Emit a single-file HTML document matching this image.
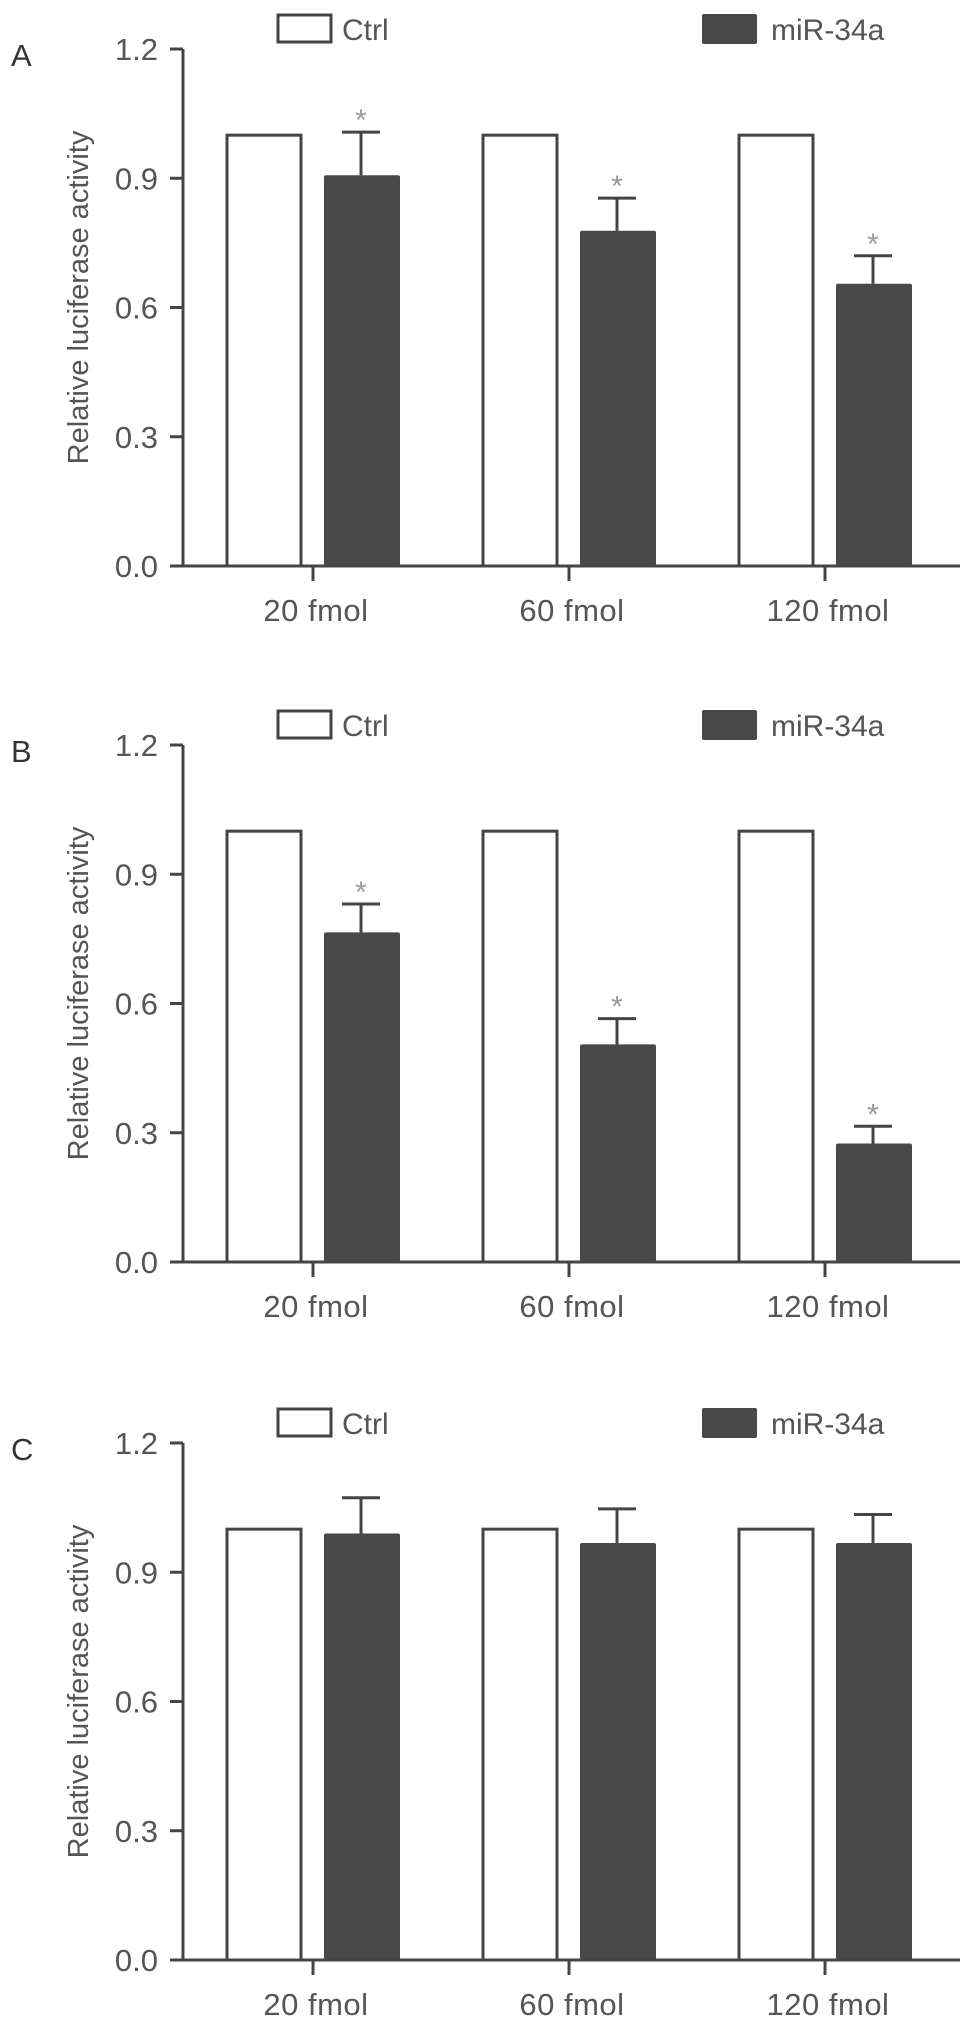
<!DOCTYPE html>
<html><head><meta charset="utf-8"><style>
html,body{margin:0;padding:0;background:#fff;}
svg{display:block;font-family:"Liberation Sans",sans-serif;}
</style></head><body>
<svg id="chart" width="969" height="2024" viewBox="0 0 969 2024" xmlns="http://www.w3.org/2000/svg"></svg>
<script>
const categories = ["20 fmol","60 fmol","120 fmol"];
const panelLabels = ["A","B","C"];
const yTicks = [0.0,0.3,0.6,0.9,1.2];
const ctrlA = [1,1,1];
const mirA = [0.907,0.778,0.655];
const errA = [0.1,0.076,0.065];
const sigA = [true,true,true];
const ctrlB = [1,1,1];
const mirB = [0.765,0.505,0.275];
const errB = [0.066,0.06,0.04];
const sigB = [true,true,true];
const ctrlC = [1,1,1];
const mirC = [0.99,0.968,0.968];
const errC = [0.083,0.079,0.066];
const sigC = [false,false,false];

const svg = document.getElementById('chart');
const NS = 'http://www.w3.org/2000/svg';
function mk(tag, attrs, parent){
  const e = document.createElementNS(NS, tag);
  for (const k in attrs) e.setAttribute(k, attrs[k]);
  (parent||svg).appendChild(e);
  return e;
}
const panels = [
  {off:0, ctrl:ctrlA, mir:mirA, err:errA, sig:sigA},
  {off:696, ctrl:ctrlB, mir:mirB, err:errB, sig:sigB},
  {off:1394, ctrl:ctrlC, mir:mirC, err:errC, sig:sigC}
];
const axX = 183, xEnd = 960, barW = 74;
const INK = '#444', FILL = '#484848', TXT = '#555';
panels.forEach((p, pi) => {
  const g = mk('g', {});
  
  
  const y0 = p.off + 566, yTop = p.off + 49;
  const ys = v => y0 - (v / 1.2) * (y0 - yTop);
  const gx = i => 227 + i * 256;
  const L = mk('text', {x:11, y:p.off+66, 'font-size':31, fill:'#333'}, g);
  
  
  L.textContent = panelLabels[pi];
  const lc = mk('rect', {x:278, y:p.off+15, width:53, height:27, fill:'#fff', stroke:INK, 'stroke-width':3}, g);
  
  
  const lct = mk('text', {x:342, y:p.off+40, 'font-size':30, fill:TXT}, g);
  
  
  lct.textContent = 'Ctrl';
  const lm = mk('rect', {x:702, y:p.off+14, width:55, height:30, rx:2, fill:FILL}, g);
  
  
  const lmt = mk('text', {x:771, y:p.off+40, 'font-size':30, fill:TXT}, g);
  
  
  lmt.textContent = 'miR-34a';
  const yt = mk('text', {x:0, y:0, 'font-size':29, fill:TXT, 'text-anchor':'middle', transform:`translate(88,${(yTop+y0)/2-10}) rotate(-90)`}, g);
  
  
  yt.textContent = 'Relative luciferase activity';
  categories.forEach((c, i) => {
    const cx = gx(i);
    const cb = mk('rect', {x:cx, y:ys(p.ctrl[i]), width:barW, height:y0-ys(p.ctrl[i]), fill:'#fff', stroke:INK, 'stroke-width':3}, g);
    
    
    const mx = cx + 97;
    const ex = mx + barW/2;
    const eTop = ys(p.mir[i] + p.err[i]);
    const el = mk('line', {x1:ex, x2:ex, y1:ys(p.mir[i]), y2:eTop, stroke:INK, 'stroke-width':3}, g);
    
    
    const ec = mk('line', {x1:ex-19, x2:ex+19, y1:eTop, y2:eTop, stroke:INK, 'stroke-width':3}, g);
    
    
    const mb = mk('rect', {x:mx, y:ys(p.mir[i]), width:barW+2, height:y0-ys(p.mir[i]), rx:2, fill:FILL}, g);
    
    
    if (p.sig[i]) {
      const st = mk('text', {x:ex, y:eTop-2, 'font-size':30, fill:'#999', 'text-anchor':'middle'}, g);
      
      
      st.textContent = '*';
    }
    const tx = cx + 86;
    const tk = mk('line', {x1:tx, x2:tx, y1:y0, y2:y0+15, stroke:INK, 'stroke-width':3}, g);
    
    
    const xl = mk('text', {x:tx+3, y:y0+55, 'font-size':31, fill:TXT, 'text-anchor':'middle', 'letter-spacing':'0.5'}, g);
    
    
    xl.textContent = c;
  });
  const ya = mk('line', {x1:axX, x2:axX, y1:yTop, y2:y0, stroke:INK, 'stroke-width':3}, g);
  
  
  const xa = mk('line', {x1:axX-13, x2:xEnd, y1:y0, y2:y0, stroke:INK, 'stroke-width':3}, g);
  
  
  yTicks.forEach(t => {
    const yy = ys(t);
    const tl = mk('line', {x1:axX-13, x2:axX, y1:yy, y2:yy, stroke:INK, 'stroke-width':3}, g);
    
    
    const tt = mk('text', {x:158, y:yy+11, 'font-size':31, fill:TXT, 'text-anchor':'end'}, g);
    
    
    tt.textContent = t.toFixed(1);
  });
});
</script>
</body></html>
